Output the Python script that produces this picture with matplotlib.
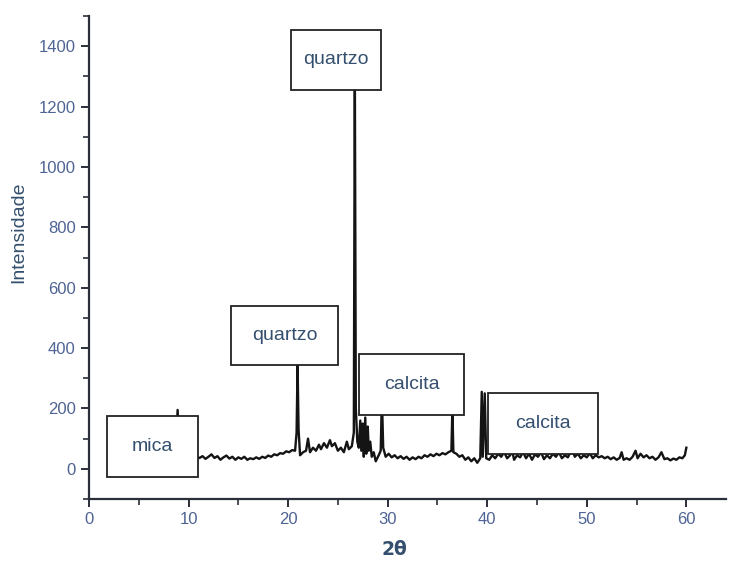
import matplotlib.pyplot as plt
from matplotlib.patches import Rectangle
from matplotlib.ticker import MultipleLocator

# XRD pattern (2theta, counts)
two_theta = [5.0, 6.0, 7.0, 8.0, 8.7, 8.9, 9.1, 9.6, 10.2, 10.8, 11.1, 11.4, 11.7, 12.0,
             12.3, 12.6, 12.9, 13.2, 13.5, 13.8, 14.1, 14.4, 14.7, 15.0, 15.3, 15.6, 15.9,
             16.2, 16.5, 16.8, 17.1, 17.4, 17.7, 18.0, 18.3, 18.6, 18.9, 19.2, 19.5, 19.8,
             20.1, 20.4, 20.7, 20.85, 20.95, 21.05, 21.2, 21.5, 21.8, 22.0, 22.2, 22.5,
             22.8, 23.1, 23.3, 23.6, 23.9, 24.2, 24.4, 24.7, 25.0, 25.3, 25.6, 25.9, 26.1,
             26.4, 26.6, 26.7, 26.8, 26.95, 27.1, 27.25, 27.35, 27.5, 27.6, 27.75, 27.85,
             28.0, 28.1, 28.25, 28.4, 28.6, 28.8, 29.1, 29.3, 29.42, 29.55, 29.8, 30.1,
             30.4, 30.7, 31.0, 31.3, 31.6, 31.9, 32.2, 32.5, 32.8, 33.1, 33.4, 33.7, 34.0,
             34.3, 34.6, 34.9, 35.2, 35.5, 35.8, 36.1, 36.4, 36.5, 36.6, 36.9, 37.2,
             37.5, 37.8, 38.1, 38.4, 38.7, 39.0, 39.3, 39.45, 39.55, 39.75, 39.9, 40.2,
             40.5, 40.8, 41.1, 41.4, 41.7, 42.0, 42.3, 42.5, 42.7, 43.0, 43.3, 43.6, 43.9,
             44.2, 44.5, 44.8, 45.1, 45.4, 45.7, 46.0, 46.3, 46.6, 46.9, 47.2, 47.5, 47.8,
             48.1, 48.5, 48.8, 49.1, 49.4, 49.7, 50.0, 50.3, 50.6, 50.9, 51.2, 51.5, 51.8,
             52.1, 52.4, 52.7, 53.0, 53.3, 53.5, 53.7, 54.0, 54.3, 54.6, 54.9, 55.1, 55.4,
             55.7, 56.0, 56.3, 56.6, 56.9, 57.2, 57.5, 57.8, 58.1, 58.4, 58.7, 59.0, 59.3,
             59.6, 59.85, 60.0]
intensity = [45, 42, 44, 40, 45, 195, 45, 40, 38, 40, 36, 42, 33, 40,
             48, 36, 42, 30, 38, 44, 34, 40, 30, 38, 33, 40, 30,
             35, 32, 38, 33, 40, 36, 44, 40, 48, 45, 52, 50, 58,
             55, 62, 60, 120, 345, 130, 45, 55, 60, 100, 55, 70,
             60, 80, 65, 85, 70, 95, 75, 85, 60, 70, 55, 90, 65,
             75, 120, 1350, 200, 90, 70, 160, 60, 150, 40, 170, 50,
             140, 60, 90, 40, 55, 25, 45, 60, 240, 70, 40, 50,
             38, 45, 35, 42, 33, 40, 30, 38, 32, 40, 35, 45, 40,
             48, 42, 50, 45, 52, 48, 55, 60, 200, 55, 50, 40,
             45, 30, 38, 25, 35, 20, 35, 255, 40, 250, 35, 30,
             45, 35, 50, 40, 55, 35, 45, 60, 30, 45, 38, 55, 35,
             50, 30, 48, 40, 55, 32, 45, 35, 50, 40, 55, 35, 45,
             38, 65, 40, 50, 35, 45, 38, 52, 35, 45, 38, 42, 35,
             40, 32, 38, 30, 36, 55, 30, 35, 30, 40, 60, 35, 50,
             38, 45, 35, 40, 30, 38, 55, 32, 35, 28, 34, 30, 38,
             35, 45, 70]

# phase labels: text, box (x0, y0, x1, y1) in data units
labels = ["mica", "quartzo", "quartzo", "calcita", "calcita"]
boxes = [(1.8, -26, 10.9, 175), (14.3, 344, 25.0, 540), (20.3, 1255, 29.3, 1454),
         (27.1, 179, 37.7, 381), (40.1, 50, 51.1, 252)]

txt_col = "#34506e"
tick_col = "#4f6494"

fig = plt.figure(figsize=(7.29, 5.73), dpi=100)
ax = fig.add_axes([0.1221, 0.1291, 0.874, 0.843])

ax.plot(two_theta, intensity, color="#141414", lw=1.7, zorder=2)

for lab, (x0, y0, x1, y1) in zip(labels, boxes):
    ax.add_patch(Rectangle((x0, y0), x1 - x0, y1 - y0, facecolor="white",
                           edgecolor="#222222", lw=1.3, zorder=3))
    ax.text((x0 + x1) / 2, (y0 + y1) / 2, lab, ha="center", va="center",
            fontsize=14, color=txt_col, family="Liberation Sans", zorder=4)

ax.set_xlim(0, 64)
ax.set_ylim(-100, 1500)
ax.xaxis.set_major_locator(MultipleLocator(10))
ax.xaxis.set_minor_locator(MultipleLocator(5))
ax.yaxis.set_major_locator(MultipleLocator(200))
ax.yaxis.set_minor_locator(MultipleLocator(100))
ax.set_xticks(range(0, 70, 10))
ax.set_xticklabels([str(v) for v in range(0, 70, 10)])
ax.set_yticks(range(0, 1600, 200))
ax.set_yticklabels([str(v) for v in range(0, 1600, 200)])

for s in ["top", "right"]:
    ax.spines[s].set_visible(False)
for s in ["left", "bottom"]:
    ax.spines[s].set_linewidth(1.6)
    ax.spines[s].set_color("#2a2f3a")

ax.tick_params(which="major", length=6, width=1.4, color="#2a2f3a",
               labelsize=12, labelcolor=tick_col)
ax.tick_params(which="minor", length=4, width=1.2, color="#2a2f3a")
for t in ax.get_xticklabels() + ax.get_yticklabels():
    t.set_family("Liberation Sans")

ax.set_ylabel("Intensidade", fontsize=14, color=txt_col, family="Liberation Sans")
ax.yaxis.set_label_coords(-0.097, 0.553)
ax.set_xlabel("2θ", fontsize=13.5, color=txt_col, family="DejaVu Sans", fontweight="bold")
ax.xaxis.set_label_coords(0.479, -0.085)

fig.savefig("out.png", dpi=100)
